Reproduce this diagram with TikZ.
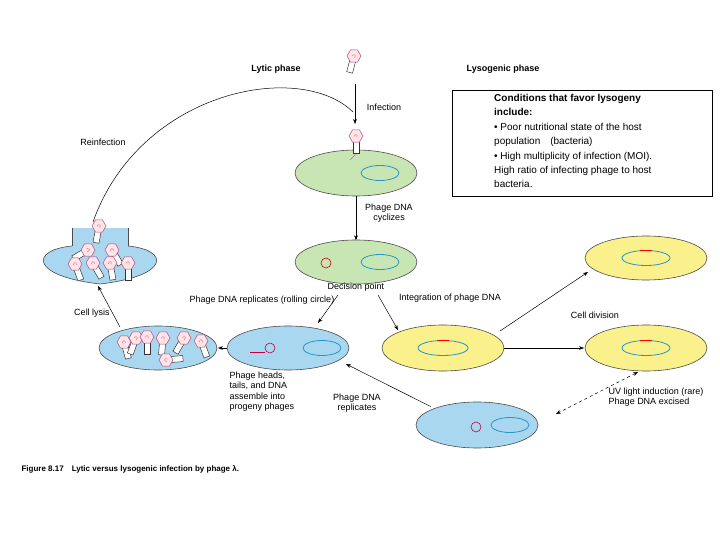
\documentclass[tikz,border=0pt]{standalone}
\usepackage{fontspec}
\setmainfont{Liberation Sans}
\usetikzlibrary{shapes.geometric,arrows.meta}
\definecolor{cgreen}{RGB}{200,230,180}
\definecolor{cblue}{RGB}{170,215,240}
\definecolor{cyel}{RGB}{250,240,140}
\definecolor{ring}{RGB}{40,150,200}
\definecolor{pinkd}{RGB}{220,90,160}
\tikzset{
 cell/.style={draw=black!70,line width=0.6pt},
 ringc/.style={draw=ring,line width=0.8pt},
 arr/.style={-{Stealth[length=5pt]},line width=0.5pt},
 lbl/.style={font=\fontsize{9}{10.5}\selectfont,align=left},
 ttl/.style={font=\fontsize{9}{10.5}\selectfont\bfseries},
 phage/.pic={\draw[fill=white,draw=black!80,line width=0.5pt] (-3,3)rectangle(3,17);
   \node[regular polygon,regular polygon sides=6,minimum size=14pt,inner sep=0,draw=pinkd!80!black,fill=pink!40,line width=0.5pt] at (0,0){};
   \draw[pinkd,line width=0.4pt] (-2,0.5) .. controls (0,-3) and (2,-1) .. (1,1.5);}
}
\begin{document}
\begin{tikzpicture}[x=1pt,y=-1pt]
\useasboundingbox (0,0) rectangle (720,540);
\fill[white] (0,0) rectangle (720,540);
\node[ttl] (lyt) at (276,69) {Lytic phase};
\node[ttl] (lys) at (503,69) {Lysogenic phase};
\node[draw,line width=0.5pt,minimum width=260pt,minimum height=106pt,anchor=north west] (box) at (452,90) {};
\node[anchor=north west,inner sep=0,font=\fontsize{10}{14.4}\selectfont,align=left] (boxt) at (494,94) {\textbf{Conditions that favor lysogeny}\\\textbf{include:}\\• Poor nutritional state of the host\\population\quad(bacteria)\\• High multiplicity of infection (MOI).\\High ratio of infecting phage to host\\bacteria.};
% top phage
\pic[rotate=-15] at (354,56) {phage};
\coordinate (infA) at (355,84);
\coordinate (infB) at (355,124);
\draw[arr] (infA) -- (infB);
\node[lbl] (inf) at (384,107) {Infection};
% cell 1
\node[ellipse,cell,fill=cgreen,minimum width=122pt,minimum height=46pt] (c1) at (356,173) {};
\node[ellipse,ringc,minimum width=38pt,minimum height=15pt] (r1) at (380,173) {};
\draw[pinkd,line width=0.7pt] (356,148) -- (355,155) -- (350,160);
\pic at (356,136) {phage};
\draw[arr] (c1.south) -- ++(0,44) coordinate (c2top);
\node[lbl,align=center] (cyc) at (389,213) {Phage DNA\\cyclizes};
% cell 2
\node[ellipse,cell,fill=cgreen,minimum width=122pt,minimum height=44pt] (c2) at (356,262) {};
\node[ellipse,ringc,minimum width=38pt,minimum height=15pt] (r2) at (380,262) {};
\draw[red!80!black,line width=0.6pt] (326,263) circle (5);
\node[lbl] (dp) at (356,287) {Decision point};
% lytic cell
\node[ellipse,cell,fill=cblue,minimum width=122pt,minimum height=44pt] (lc) at (288,348) {};
\node[ellipse,ringc,minimum width=38pt,minimum height=15pt] (rl) at (322,348) {};
\draw[purple,line width=0.6pt] (250,352) -- (265,352);
\draw[purple,line width=0.6pt] (270,348) circle (5);
% yellow cell
\node[ellipse,cell,fill=cyel,minimum width=122pt,minimum height=46pt] (yc) at (443,348) {};
\node[ellipse,ringc,minimum width=50pt,minimum height=15pt] (ry) at (443,348) {};
\draw[red,line width=0.8pt] (437,340.6) -- (449,340.6);
\node[ellipse,cell,fill=cyel,minimum width=122pt,minimum height=44pt] (yt) at (646,258) {};
\node[ellipse,ringc,minimum width=48pt,minimum height=15pt] (ryt) at (646,258) {};
\draw[red,line width=0.8pt] (640,250.6) -- (652,250.6);
\node[ellipse,cell,fill=cyel,minimum width=122pt,minimum height=46pt] (yb) at (646,348) {};
\node[ellipse,ringc,minimum width=48pt,minimum height=15pt] (ryb) at (646,348) {};
\draw[red,line width=0.8pt] (640,340.6) -- (652,340.6);
% bottom blue cell
\node[ellipse,cell,fill=cblue,minimum width=122pt,minimum height=46pt] (bc) at (477,425) {};
\node[ellipse,ringc,minimum width=38pt,minimum height=15pt] (rb) at (510,425) {};
\draw[purple,line width=0.6pt] (476,427) circle (5);
% arrows from decision
\draw[arr] (338,295) -- (318,323);
\draw[arr] (378,295) -- (398,330);
\node[lbl] (rep) at (262,300) {Phage DNA replicates (rolling circle)};
\node[lbl] (int) at (450,298) {Integration of phage DNA};
\draw[arr] (500,331) -- (588,272);
\draw[arr] (504,348) -- (584,348);
\node[lbl] (cd) at (595,315) {Cell division};
\draw[arr,dashed,{Stealth[length=5pt]}-{Stealth[length=5pt]}] (638,372) -- (556,414);
\node[lbl,align=left] (uv) at (656,397) {UV light induction (rare)\\Phage DNA excised};
\draw[arr] (bc.north west) ++(-3,-2) -- (346,364);
\node[lbl,align=center] (pdr) at (357,403) {Phage DNA\\replicates};
% assembly cell
\node[ellipse,cell,fill=cblue,minimum width=118pt,minimum height=44pt] (ac) at (158,348) {};
\draw[arr] (lc.west) -- (218,348);
\pic[rotate=15] at (124,342) {phage};
\pic[rotate=-20] at (136,338) {phage};
\pic at (147,337) {phage};
\pic[rotate=-5] at (163,338) {phage};
\pic[rotate=-30] at (184,338) {phage};
\pic[rotate=20] at (201,341) {phage};
\pic[rotate=95] at (166,360) {phage};
\node[lbl,anchor=north west] (asm) at (226,368) {Phage heads,\\tails, and DNA\\assemble into\\progeny phages};
\draw[arr] (120,327) -- (98,286);
\node[lbl] (cl) at (92,313) {Cell lysis};
% lysed cell
\fill[cblue] (72,228) -- (72,246) -- (128,246) -- (128,228) -- cycle;
\draw[cell,fill=cblue] (72,246) .. controls (30,250) and (30,276) .. (100,284) .. controls (170,276) and (170,250) .. (128,246);
\fill[cblue] (73,245) rectangle (127,252);
\draw[black!70,line width=0.6pt] (72,228) -- (72,246);
\draw[black!70,line width=0.6pt] (128,228) -- (128,246);
\pic[rotate=-10] at (99,226) {phage};
\pic[rotate=-60] at (88,250) {phage};
\pic[rotate=30] at (112,250) {phage};
\pic[rotate=20] at (75,264) {phage};
\pic[rotate=30] at (93,263) {phage};
\pic[rotate=10] at (110,263) {phage};
\pic at (128,263) {phage};
% reinfection
\coordinate (rf) at (93,222);
\draw[line width=0.5pt] (rf) .. controls (140,90) and (300,60) .. (353,112);
\node[lbl] (re) at (103,142) {Reinfection};
\node[ttl,anchor=west,font=\fontsize{8}{9}\selectfont\bfseries] (cap) at (18,469) {Figure 8.17\quad Lytic versus lysogenic infection by phage λ.};
\end{tikzpicture}
\end{document}
